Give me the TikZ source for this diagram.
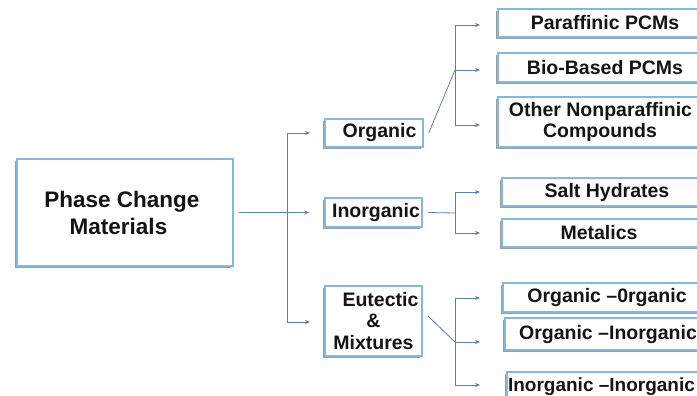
\documentclass[tikz,border=0pt]{standalone}
\usepackage{fontspec}
\setmainfont{Liberation Sans}
\usetikzlibrary{arrows.meta,shadows}
\definecolor{boxblue}{HTML}{86B8DC}
\definecolor{arrblue}{HTML}{5B7FAE}
\definecolor{txt}{HTML}{141414}
\tikzset{
  boxst/.style={draw=boxblue, line width=1.5pt, fill=white, inner sep=0pt,
    drop shadow={shadow xshift=-1.8pt, shadow yshift=-2.2pt, fill=black!55, opacity=0.7},
    font=\fontsize{19.5}{21.5}\selectfont\bfseries, text=txt, align=center},
  lbl/.style={inner sep=0pt, font=\fontsize{19.5}{21.5}\selectfont\bfseries, text=txt, align=center},
  arr/.style={draw=arrblue, line width=0.8pt, -{Stealth[length=5pt,width=4pt]}},
  ln/.style={draw=arrblue, line width=0.8pt},
}
\begin{document}
\begin{tikzpicture}[x=1pt,y=-1pt]
\useasboundingbox (0,0) rectangle (697,396);
% main box
\node[boxst, line width=2pt, minimum width=216pt, minimum height=107pt] (pcm) at (125,212.5) {};
\node[lbl, font=\fontsize{22.5}{27}\selectfont\bfseries] (pcmt) at (122,213) {Phase Change\\Materials\hspace*{7pt}};
% second level
\node[boxst, minimum width=98pt, minimum height=28pt] (org) at (374,133) {\hspace*{11pt}Organic};
\node[boxst, minimum width=97pt, minimum height=29pt] (inorg) at (373.5,212.5) {\hspace*{5pt}Inorganic};
\node[boxst, minimum width=97pt, minimum height=70pt] (eut) at (373.5,321) {\hspace*{14pt}Eutectic\\\&\\Mixtures};
% third level
\node[boxst, minimum width=214pt, minimum height=28pt] (par) at (605,23) {Paraffinic PCMs};
\node[boxst, minimum width=214pt, minimum height=29pt] (bio) at (605,67.5) {Bio-Based PCMs};
\node[boxst, minimum width=214pt, minimum height=50pt] (oth) at (605,122) {\hspace*{-9pt}Other Nonparaffinic\\\hspace*{-10pt}Compounds};
\node[boxst, minimum width=210pt, minimum height=28pt] (salt) at (607,192) {Salt Hydrates};
\node[boxst, minimum width=210pt, minimum height=28pt] (met) at (607,233) {\hspace*{-16pt}Metalics};
\node[boxst, minimum width=208pt, minimum height=29pt] (oo) at (607,297.5) {Organic –0rganic};
\node[boxst, minimum width=206pt, minimum height=32pt] (oi) at (608,334) {Organic –Inorganic};
\node[boxst, minimum width=204pt, minimum height=30pt, font=\fontsize{19}{21}\selectfont\bfseries] (ii) at (609,387) {\hspace*{-15pt}Inorganic –Inorganic};
% trunk
\coordinate (t1) at (287,133);
\coordinate (t3) at (287,322);
\draw[ln] (t1) -- (t3);
\draw[arr] ([xshift=5pt]pcm.east) -- ([xshift=-15pt]inorg.west);
\draw[arr] (t1) -- (310,133);
\draw[arr] (t3) -- (310,322);
% organic branch
\coordinate (oa) at (455,25);
\coordinate (ob) at (455,70);
\coordinate (oc) at (455,125);
\draw[ln] ([xshift=5pt]org.east) -- (ob);
\draw[ln] (oa) -- (oc);
\draw[arr] (oa) -- (480,25);
\draw[arr] (ob) -- (480,70);
\draw[arr] (oc) -- (480,125);
% inorganic branch
\coordinate (ia) at (455,192);
\coordinate (ib) at (455,213);
\coordinate (ic) at (455,233);
\draw[ln] ([xshift=5pt]inorg.east) -- (ib);
\draw[ln] (ia) -- (ic);
\draw[arr] (ia) -- (480,192);
\draw[arr] (ic) -- (480,233);
% eutectic branch
\coordinate (ea) at (455,298);
\coordinate (eb) at (455,342);
\coordinate (ec) at (455,385);
\draw[ln] (428,316) -- (eb);
\draw[ln] (ea) -- (ec);
\draw[arr] (ea) -- (480,298);
\draw[arr] (eb) -- (480,342);
\draw[arr] (ec) -- (480,385);
\end{tikzpicture}
\end{document}
